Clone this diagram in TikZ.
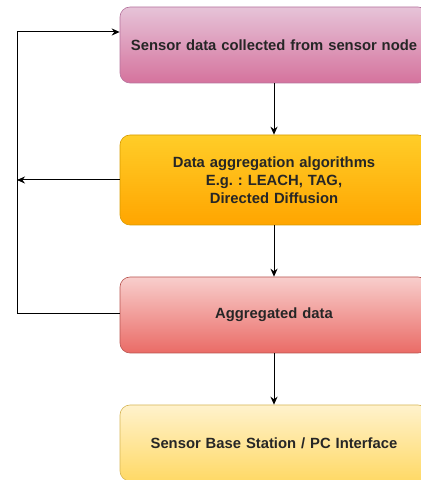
\documentclass[tikz,border=0pt]{standalone}
\usepackage{fontspec}
\setmainfont{Liberation Sans}
\usetikzlibrary{arrows.meta}
\frenchspacing
\definecolor{pinkT}{HTML}{E6C3D8}
\definecolor{pinkB}{HTML}{D5739D}
\definecolor{pinkD}{HTML}{B5739D}
\definecolor{orT}{HTML}{FFCD28}
\definecolor{orB}{HTML}{FFA500}
\definecolor{orD}{HTML}{D79B00}
\definecolor{redT}{HTML}{F8CECC}
\definecolor{redB}{HTML}{EA6B66}
\definecolor{redD}{HTML}{B85450}
\definecolor{ylT}{HTML}{FFF2CC}
\definecolor{ylB}{HTML}{FFD966}
\definecolor{ylD}{HTML}{D6B656}
\tikzset{
  box/.style={rectangle, rounded corners=10pt, minimum width=308pt, text width=300pt, inner xsep=4pt, align=center,
    font=\fontsize{14.8}{18}\selectfont\bfseries, text=black!85, line width=0.6pt},
  conn/.style={line width=1pt, -{Stealth[length=8pt,width=7pt]}},
  plain/.style={line width=1pt}
}
\begin{document}
\begin{tikzpicture}[x=1pt,y=1pt]
\useasboundingbox (0,0) rectangle (421,480);
\node[box, minimum height=76pt, draw=pinkD, top color=pinkT, bottom color=pinkB] (b1) at (274,435) {Sensor data collected from sensor node};
\node[box, minimum height=90pt, draw=orD, top color=orT, bottom color=orB] (b2) at (274,300) {Data aggregation algorithms\\E.g. : LEACH, TAG,\\Directed Diffusion};
\node[box, minimum height=76pt, draw=redD, top color=redT, bottom color=redB] (b3) at (274,165) {Aggregated data};
\node[box, minimum height=76pt, draw=ylD, top color=ylT, bottom color=ylB] (b4) at (274,37) {Sensor Base Station / PC Interface};
\coordinate (l3) at (17,166);
\coordinate (l1) at (17,448);
\coordinate (l2) at (17,300);
\draw[conn] (b1) -- (b2);
\draw[conn] (b2) -- (b3);
\draw[conn] (b3) -- (b4);
\draw[conn] (b2.west) -- (l2);
\draw[conn] (b3.west |- l3) -- (l3) -- (l1) -- (b1.west |- l1);
\end{tikzpicture}
\end{document}
